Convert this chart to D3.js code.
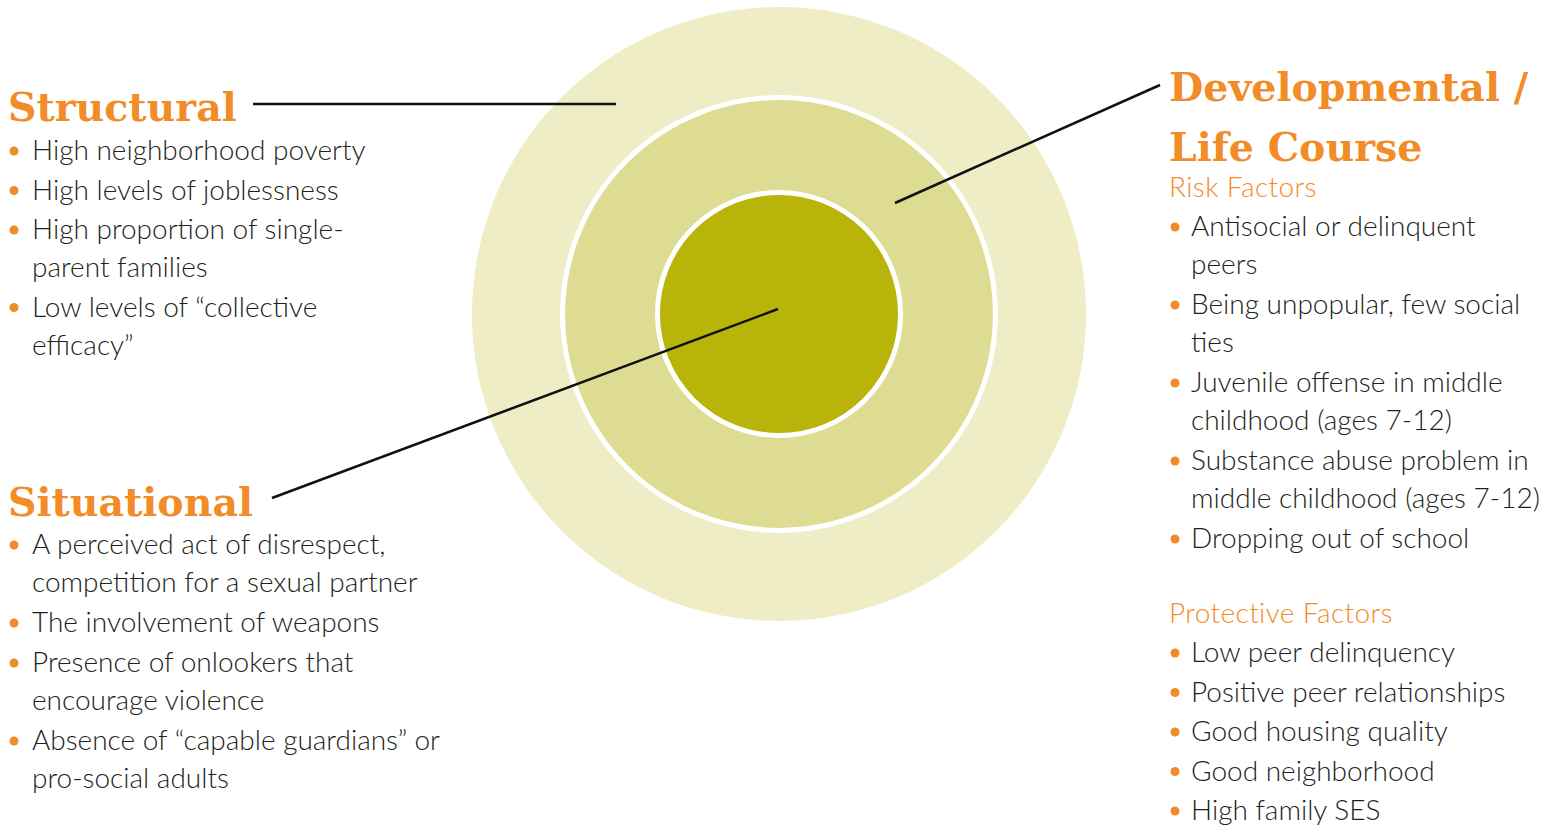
<!DOCTYPE html>
<html>
<head>
<meta charset="utf-8">
<script src="https://cdn.jsdelivr.net/npm/d3@7"></script>
<style>
  body { margin: 0; background: #fff; }
  svg { display: block; }
</style>
</head>
<body>
<svg id="chart"></svg>
<script>
// Data
const rings = ["Structural", "Developmental / Life Course", "Situational"];
const ringSize = [1.0, 0.713, 0.404];
const ringColors = ["#eeedc6", "#dddc92", "#b8b40a"];

const structuralItems = [
    ["High neighborhood poverty"],
    ["High levels of joblessness"],
    ["High proportion of single-", "parent families"],
    ["Low levels of \u201ccollective", "efficacy\u201d"]
];
const situationalItems = [
    ["A perceived act of disrespect,", "competition for a sexual partner"],
    ["The involvement of weapons"],
    ["Presence of onlookers that", "encourage violence"],
    ["Absence of \u201ccapable guardians\u201d or", "pro-social adults"]
];
const riskItems = [
    ["Antisocial or delinquent", "peers"],
    ["Being unpopular, few social", "ties"],
    ["Juvenile offense in middle", "childhood (ages 7-12)"],
    ["Substance abuse problem in", "middle childhood (ages 7-12)"],
    ["Dropping out of school"]
];
const protectiveItems = [
    ["Low peer delinquency"],
    ["Positive peer relationships"],
    ["Good housing quality"],
    ["Good neighborhood"],
    ["High family SES"]
];

// Configuration
const W = 1541, H = 828;
const orange = "#f28c28";
const ink = "#231f20";
const titleFont = "'DejaVu Serif', serif";
const bodyFont = "Lato, 'Open Sans', sans-serif";
const bodySize = 28;
const cx = 779, cy = 314, maxR = 307;

const svg = d3.select("#chart").attr("width", W).attr("height", H);

const r = d3.scaleLinear().domain([0, 1]).range([0, maxR]);

// Rings
svg.append("g").selectAll("circle")
    .data(rings.map((name, i) => ({ name, size: ringSize[i], color: ringColors[i], i })))
    .join("circle")
    .attr("cx", cx)
    .attr("cy", cy)
    .attr("r", d => r(d.size) - (d.i > 0 ? 2.5 : 0))
    .attr("fill", d => d.color)
    .attr("stroke", d => d.i > 0 ? "#fff" : "none")
    .attr("stroke-width", 5);

// Leader lines
const leaders = [
    [[253, 104], [616, 104]],
    [[1160, 85], [895, 203]],
    [[272, 498], [778, 309]]
];
svg.append("g").selectAll("line")
    .data(leaders)
    .join("line")
    .attr("x1", d => d[0][0]).attr("y1", d => d[0][1])
    .attr("x2", d => d[1][0]).attr("y2", d => d[1][1])
    .attr("stroke", "#111")
    .attr("stroke-width", 2.5);

// Text helpers
function title(lines, x, y, lh) {
    const t = svg.append("text")
        .attr("x", x).attr("y", y)
        .attr("font-family", titleFont)
        .attr("font-weight", "bold")
        .attr("font-size", 39.5)
        .attr("fill", orange);
    lines.forEach((l, i) => t.append("tspan").attr("x", x).attr("y", y + i * lh).text(l));
}

function subhead(text, x, y) {
    svg.append("text")
        .attr("x", x).attr("y", y)
        .attr("font-family", bodyFont)
        .attr("font-weight", 300)
        .attr("font-size", bodySize)
        .attr("letter-spacing", 0.4)
        .attr("fill", orange)
        .text(text);
}

// Draws bullet list, returns baseline after the last line
function bullets(items, bx, tx, y0, step) {
    const g = svg.append("g");
    let y = y0;
    items.forEach((lines, i) => {
        if (i > 0) y += step;
        g.append("circle")
            .attr("cx", bx).attr("cy", y - 9)
            .attr("r", 4.5)
            .attr("fill", orange);
        lines.forEach((l, j) => {
            if (j > 0) y += 38;
            g.append("text")
                .attr("x", tx).attr("y", y)
                .attr("font-family", bodyFont)
                .attr("font-weight", 300)
                .attr("font-size", bodySize)
                .attr("fill", ink)
                .text(l);
        });
    });
    return y;
}

// Structural
title(["Structural"], 8, 121, 0);
bullets(structuralItems, 14, 32, 160, 39.5);

// Situational
title(["Situational"], 8, 516, 0);
bullets(situationalItems, 14, 32, 554, 40);

// Developmental / Life Course
title(["Developmental /", "Life Course"], 1169, 101, 60);
subhead("Risk Factors", 1169, 197);
bullets(riskItems, 1175, 1191, 236, 40);
subhead("Protective Factors", 1169, 623);
bullets(protectiveItems, 1175, 1191, 662, 39.5);
</script>
</body>
</html>
